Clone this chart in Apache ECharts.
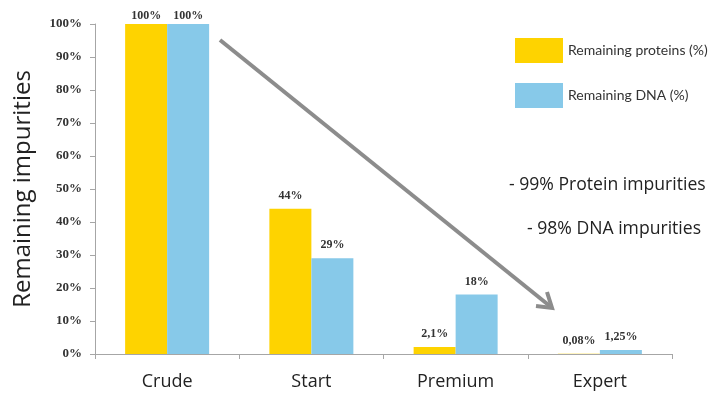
<!DOCTYPE html>
<html>
<head>
<meta charset="utf-8">
<script src="https://cdn.jsdelivr.net/npm/echarts@6/dist/echarts.min.js"></script>
<style>
  html, body { margin: 0; padding: 0; background: #fff; }
  #chart { width: 712px; height: 394px; }
</style>
</head>
<body>
<div id="chart"></div>
<script>
// data
const categories = ['Crude', 'Start', 'Premium', 'Expert'];
const proteins = [100, 44, 2.1, 0.08];
const dna = [100, 29, 18, 1.25];
const yTicks = [0, 10, 20, 30, 40, 50, 60, 70, 80, 90, 100];

const chart = echarts.init(document.getElementById('chart'));

const valueLabel = {
  show: true,
  position: 'top',
  distance: 7,
  fontFamily: 'Liberation Serif',
  fontSize: 12,
  fontWeight: 'bold',
  color: '#333',
  formatter: p => String(p.value).replace('.', ',') + '%'
};

// the 100% labels sit tight on the bars in the original
const hugTop = p => (p.dataIndex === 0 ? { dy: 5 } : {});

const option = {
  animation: false,
  backgroundColor: '#fff',
  grid: { left: 95, right: 40, top: 24, bottom: 40 },
  legend: {
    orient: 'vertical',
    left: 510,
    top: 33,
    itemWidth: 48,
    itemHeight: 25,
    itemGap: 20,
    icon: 'rect',
    textStyle: { fontFamily: 'Lato', fontSize: 14, color: '#333' },
    data: ['Remaining proteins (%)', 'Remaining DNA (%)']
  },
  xAxis: {
    type: 'category',
    data: categories,
    axisLine: { lineStyle: { color: '#a6a6a6', width: 1 } },
    axisTick: { show: true, length: 5, lineStyle: { color: '#a6a6a6' } },
    axisLabel: { fontFamily: 'Open Sans', fontSize: 18, color: '#222', margin: 19 }
  },
  yAxis: {
    type: 'value',
    min: yTicks[0],
    max: yTicks[yTicks.length - 1],
    interval: 10,
    name: 'Remaining impurities',
    nameLocation: 'middle',
    nameGap: 60,
    nameTextStyle: { fontFamily: 'Open Sans', fontSize: 24, color: '#222' },
    axisLine: { show: true, lineStyle: { color: '#a6a6a6', width: 1 } },
    axisTick: { show: true, length: 5, lineStyle: { color: '#a6a6a6' } },
    splitLine: { show: false },
    axisLabel: {
      fontFamily: 'Liberation Serif',
      fontSize: 13,
      fontWeight: 'bold',
      color: '#333',
      margin: 13,
      formatter: '{value}%'
    }
  },
  series: [
    {
      name: 'Remaining proteins (%)',
      type: 'bar',
      data: proteins,
      barWidth: 42,
      barGap: '0%',
      itemStyle: { color: '#fed300' },
      label: valueLabel,
      labelLayout: hugTop
    },
    {
      name: 'Remaining DNA (%)',
      type: 'bar',
      data: dna,
      barWidth: 42,
      barGap: '0%',
      itemStyle: { color: '#87c9e9' },
      label: valueLabel,
      labelLayout: hugTop
    }
  ],
  graphic: [
    // the big grey arrow
    {
      type: 'line',
      shape: { x1: 220, y1: 40, x2: 551, y2: 307 },
      style: { stroke: '#8c8c8c', lineWidth: 4 }
    },
    {
      type: 'polyline',
      shape: { points: [[547, 292], [552, 308], [536, 306]] },
      style: { stroke: '#8c8c8c', lineWidth: 4, fill: null, lineJoin: 'miter' }
    },
    {
      type: 'text',
      left: 509,
      top: 176,
      style: { text: '- 99% Protein impurities', font: '17.6px "Open Sans"', fill: '#222' }
    },
    {
      type: 'text',
      left: 527,
      top: 220,
      style: { text: '- 98% DNA impurities', font: '17.6px "Open Sans"', fill: '#222' }
    }
  ]
};

chart.setOption(option);
</script>
</body>
</html>
